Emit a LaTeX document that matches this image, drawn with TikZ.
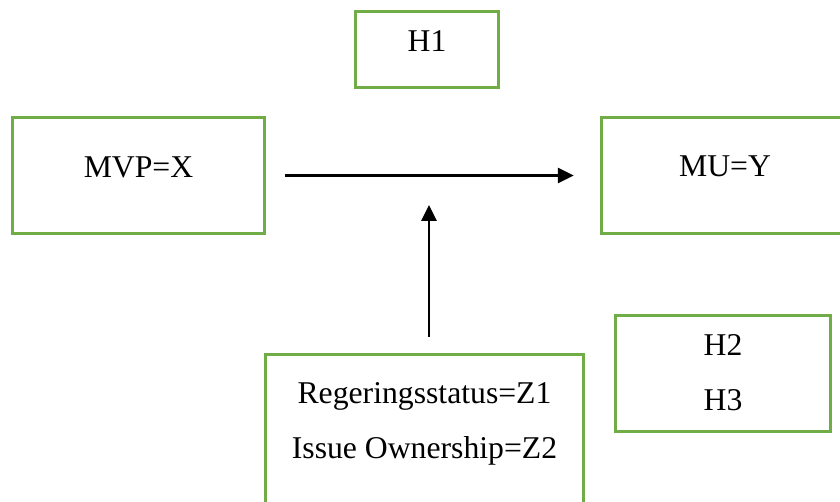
\documentclass[tikz,border=0pt]{standalone}
\usepackage{fontspec}
\setmainfont{Liberation Serif}
\usetikzlibrary{arrows.meta}
\definecolor{boxgreen}{RGB}{112,173,71}
\tikzset{
    varbox/.style={draw=boxgreen, line width=3pt, inner sep=0pt, align=center,
        font=\fontsize{31.7}{55}\selectfont},
    effect/.style={line width=2.7pt, -{Triangle[length=16pt,width=15pt]}}
}
\begin{document}
\begin{tikzpicture}[x=1pt,y=-1pt]
                \useasboundingbox (0,0) rectangle (840,502);
                \clip (0,0) rectangle (840,502);
                % \draw[step=20, gray, very thin] (0,0) grid (840,502);
                \node (h1) at (427,49.5) [varbox, minimum width=143.5pt, text height=40.75pt, text depth=35.75pt] {H1};
                \node (mvp) at (138.5,175.5) [varbox, minimum width=252.5pt, text height=60.75pt, text depth=55.75pt] {MVP=X};
                \node (mu) at (725,175.5) [varbox, minimum width=247.5pt, text height=59.75pt, text depth=56.75pt] {MU=Y};
                \node (hyp) at (723,373.5) [varbox, minimum width=215.5pt, text height=94.75pt, text depth=21.75pt] {H2\\H3};
                \node (mod) at (424.5,447.1) [varbox, minimum width=318.5pt, text height=104.75pt, text depth=81pt] {Regeringsstatus=Z1\\Issue Ownership=Z2};

                \coordinate (join) at (429,205);
                \draw[effect, shorten <=19pt, shorten >=26pt] (mvp.east) -- (mu.west);
                \draw[effect, shorten <=16pt] (join |- mod.north) -- (join);
\end{tikzpicture}
\end{document}
